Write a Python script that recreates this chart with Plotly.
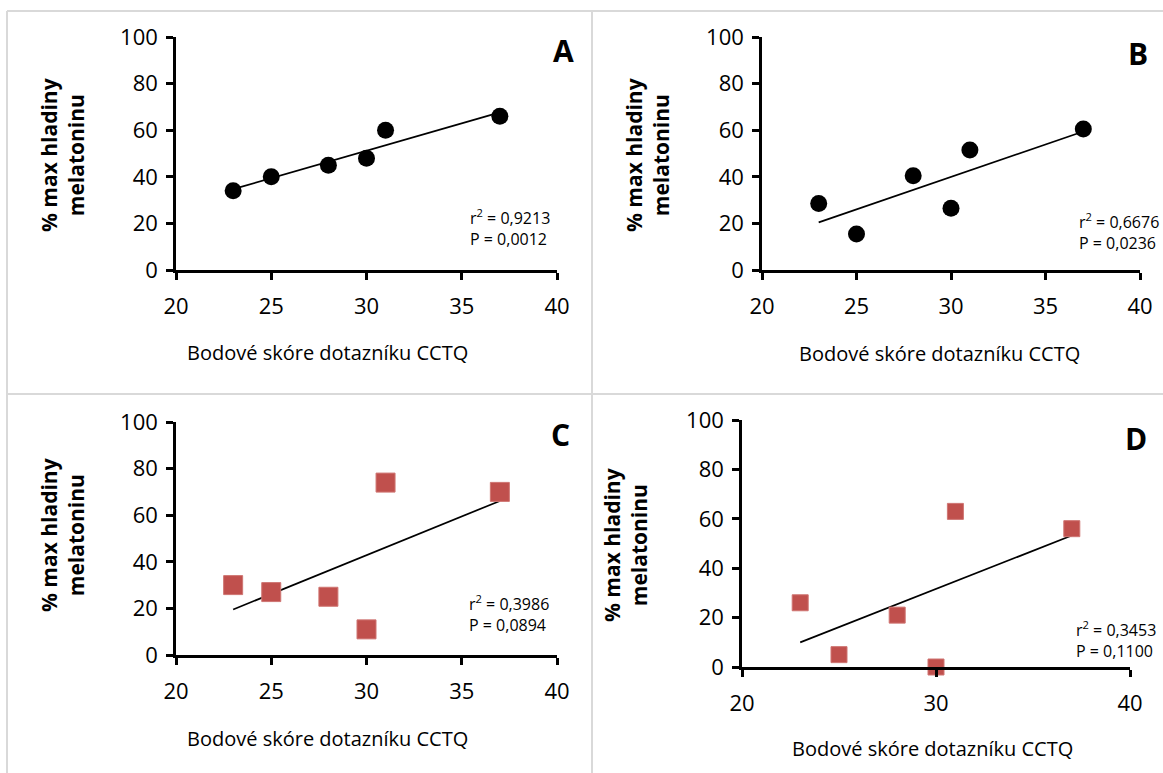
import numpy as np
import plotly.graph_objects as go

W, H = 1163, 773

# ---- data ----
x_scores = [23, 25, 28, 30, 31, 37]
vals_A = [34, 40, 45, 48, 60, 66]
vals_B = [28.5, 15.5, 40.5, 26.5, 51.5, 60.5]
vals_C = [30, 27, 25, 11, 74, 70]
vals_D = [26, 5, 21, 0, 63, 56]
panel_letters = ["A", "B", "C", "D"]
stats_text = ["r<sup>2</sup> = 0,9213<br>P = 0,0012",
              "r<sup>2</sup> = 0,6676<br>P = 0,0236",
              "r<sup>2</sup> = 0,3986<br>P = 0,0894",
              "r<sup>2</sup> = 0,3453<br>P = 0,1100"]
x_title = "Bodové skóre dotazníku CCTQ"
y_title = "<b>% max hladiny<br>melatoninu</b>"
x_dticks = [5, 5, 5, 10]

FONT = "Open Sans"
RED = "#c0504d"

boxes = [(176, 557, 37, 270), (762, 1140, 37, 270),
         (176, 557, 422, 655), (742, 1130, 420, 667)]
series = [vals_A, vals_B, vals_C, vals_D]
marker_styles = [dict(symbol="circle", size=17, color="black"),
                 dict(symbol="circle", size=17, color="black"),
                 dict(symbol="square", size=19, color=RED, line=dict(color="#cf7572", width=1)),
                 dict(symbol="square", size=16, color=RED, line=dict(color="#cf7572", width=1))]
letter_pos = [(563, 51), (1138, 53), (560, 434), (1136, 438)]
ytitle_pos = [(62, 155), (647, 155), (62, 535), (625, 545)]
xtitle_pos = [(327, 352), (940, 353), (327, 738), (932, 748)]
stats_pos = [(552, 227), (1161, 231), (551, 613), (1158, 639)]

fig = go.Figure()
annotations = []
shapes = []

for i in range(4):
    ax = "" if i == 0 else str(i + 1)
    x0, x1, yt, yb = boxes[i]
    xs = np.array(x_scores, dtype=float)
    ys = np.array(series[i], dtype=float)
    slope, inter = np.polyfit(xs, ys, 1)
    xl = [xs.min(), xs.max()]
    yl = [slope * v + inter for v in xl]
    fig.add_trace(go.Scatter(x=xl, y=yl, mode="lines",
                             line=dict(color="black", width=1.7),
                             xaxis="x" + ax, yaxis="y" + ax, showlegend=False,
                             cliponaxis=False))
    fig.add_trace(go.Scatter(x=x_scores, y=series[i], mode="markers",
                             marker=marker_styles[i],
                             xaxis="x" + ax, yaxis="y" + ax, showlegend=False,
                             cliponaxis=False))
    common = dict(showgrid=False, zeroline=False, showline=True, automargin=False,
                  linecolor="black", linewidth=2.5, ticks="outside",
                  ticklen=7, tickwidth=2.5, tickcolor="black",
                  tickfont=dict(family=FONT, size=22, color="black"))
    fig.update_layout(**{
        "xaxis" + ax: dict(domain=[x0 / W, x1 / W], range=[20, 40], dtick=x_dticks[i],
                           tick0=20, anchor="y" + ax, ticklabelstandoff=8, **common),
        "yaxis" + ax: dict(domain=[1 - yb / H, 1 - yt / H], range=[0, 100], dtick=20,
                           anchor="x" + ax, ticklabelstandoff=4, **common),
    })
    lx, ly = letter_pos[i]
    annotations.append(dict(x=lx / W, y=1 - ly / H, xref="paper", yref="paper",
                            xanchor="center", yanchor="middle",
                            text="<b>" + panel_letters[i] + "</b>", showarrow=False,
                            font=dict(family=FONT, size=30, color="black")))
    tx, ty = ytitle_pos[i]
    annotations.append(dict(x=tx / W, y=1 - ty / H, xref="paper", yref="paper",
                            xanchor="center", yanchor="middle",
                            text=y_title, textangle=-90, showarrow=False,
                            font=dict(family=FONT, size=21, color="black")))
    xx, xy = xtitle_pos[i]
    annotations.append(dict(x=xx / W, y=1 - xy / H, xref="paper", yref="paper",
                            xanchor="center", yanchor="middle",
                            text=x_title, showarrow=False,
                            font=dict(family=FONT, size=20, color="black")))
    sx, sy = stats_pos[i]
    annotations.append(dict(x=sx / W, y=1 - sy / H, xref="paper", yref="paper",
                            text=stats_text[i], showarrow=False, align="left",
                            xanchor="right", yanchor="middle",
                            font=dict(family=FONT, size=16, color="black")))

grey = dict(color="#d9d9d9", width=2)
for (a, b, c, d) in [(7, 11, W, 11), (7, 11, 7, H), (592, 11, 592, H), (7, 394, W, 394)]:
    shapes.append(dict(type="line", xref="paper", yref="paper",
                       x0=a / W, y0=1 - b / H, x1=c / W, y1=1 - d / H, line=grey))

fig.update_layout(width=W, height=H, margin=dict(l=0, r=0, t=0, b=0, autoexpand=False),
                  paper_bgcolor="white", plot_bgcolor="rgba(0,0,0,0)",
                  annotations=annotations, shapes=shapes,
                  font=dict(family=FONT, color="black"))

fig.write_html("out.html", post_script="document.body.style.margin='0';document.body.style.overflow='hidden';")
